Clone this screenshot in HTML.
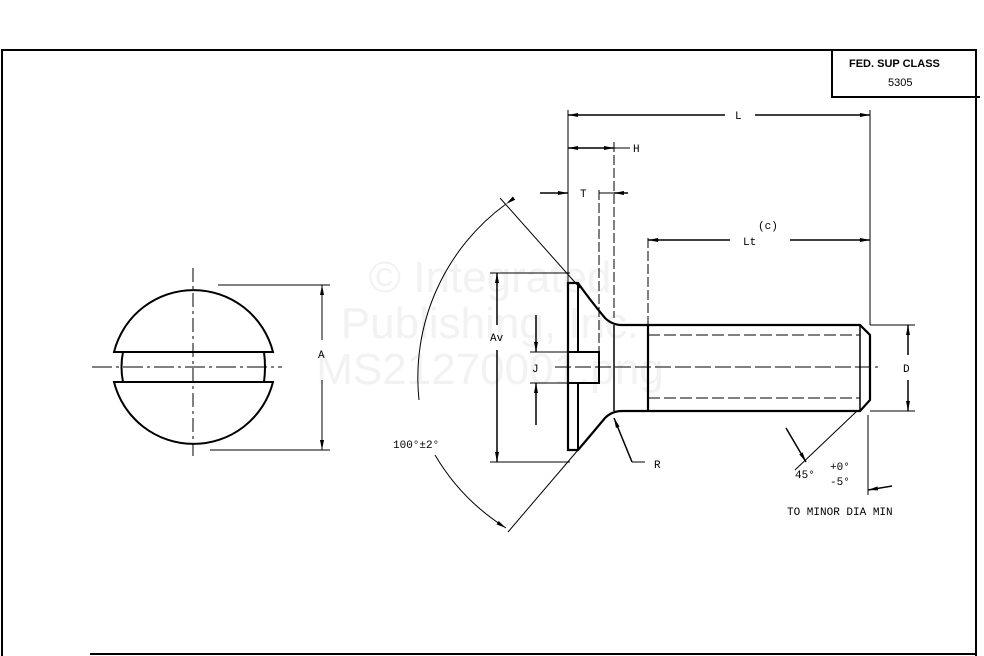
<!DOCTYPE html>
<html><head><style>
html,body{margin:0;padding:0;background:#fff;}
svg{display:block;}
text{font-family:"Liberation Mono",monospace;fill:#000;}
</style></head><body>
<svg width="984" height="656" viewBox="0 0 984 656" xmlns="http://www.w3.org/2000/svg">
<defs>
<marker id="a" markerWidth="10" markerHeight="6" refX="10" refY="3" orient="auto" markerUnits="userSpaceOnUse"><path d="M0,1 L10,3 L0,5 Z" fill="#000"/></marker>
</defs>
<g text-anchor="middle">
<text x="490" y="292" font-size="44" style="font-family:'Liberation Sans';fill:#f2f2f2">© Integrated</text>
<text x="490" y="338" font-size="44" style="font-family:'Liberation Sans';fill:#f2f2f2">Publishing, Inc.</text>
<text x="490" y="384" font-size="44" style="font-family:'Liberation Sans';fill:#f2f2f2">MS21270001.png</text>
</g>
<g stroke="#000" fill="none">
<path d="M2,656 V50 H976 V656" stroke-width="2"/>
<path d="M832,50 V97 H980" stroke-width="2"/>
<line x1="90" y1="654" x2="976" y2="654" stroke-width="2"/>
<path d="M114,352 A82,82 0 0 1 273,352 Z" stroke-width="2"/>
<path d="M114,382 A82,82 0 0 0 273,382 Z" stroke-width="2"/>
<path d="M123,352 Q120,367 123,382 M264,352 Q266,367 264,382" stroke-width="2"/>
<line x1="193" y1="268" x2="193" y2="456" stroke-width="1" stroke-dasharray="14,4,3,4"/>
<line x1="92" y1="367" x2="282" y2="367" stroke-width="1" stroke-dasharray="20,4,3,4"/>
<line x1="218" y1="285" x2="330" y2="285"/>
<line x1="210" y1="450" x2="330" y2="450"/>
<line x1="322" y1="340" x2="322" y2="285" marker-end="url(#a)"/>
<line x1="322" y1="380" x2="322" y2="450" marker-end="url(#a)"/>
<path d="M568,283 H578 Q590,300 605,318 Q612,325 622,325 H860 L870,335 V400 L860,411 H622 Q612,411 605,418 Q590,436 578,450 H568 Z" stroke-width="2.2"/>
<path d="M578,283 V352 H599 V383 H578 V450" stroke-width="2"/>
<line x1="568" y1="352" x2="578" y2="352" stroke-width="2"/>
<line x1="568" y1="383" x2="578" y2="383" stroke-width="2"/>
<line x1="614" y1="325" x2="614" y2="411" stroke-width="1.5"/>
<line x1="648" y1="325" x2="648" y2="411" stroke-width="2.2"/>
<line x1="648" y1="335" x2="860" y2="335" stroke-dasharray="12,4"/>
<line x1="648" y1="398" x2="860" y2="398" stroke-dasharray="12,4"/>
<line x1="860" y1="325" x2="860" y2="411" stroke-width="1.5"/>
<line x1="555" y1="367" x2="878" y2="367" stroke-dasharray="16,4"/>
<line x1="568" y1="110" x2="568" y2="283"/>
<line x1="614" y1="142" x2="614" y2="318" stroke-dasharray="10,3"/>
<line x1="599" y1="190" x2="599" y2="352" stroke-dasharray="10,3"/>
<line x1="648" y1="238" x2="648" y2="325" stroke-dasharray="10,3"/>
<line x1="870" y1="110" x2="870" y2="325"/>
<line x1="868" y1="415" x2="868" y2="495"/>
<line x1="725" y1="115" x2="568" y2="115" marker-end="url(#a)" stroke-width="1.5"/>
<line x1="755" y1="115" x2="870" y2="115" marker-end="url(#a)" stroke-width="1.5"/>
<line x1="590" y1="148" x2="568" y2="148" marker-end="url(#a)" stroke-width="1.5"/>
<line x1="590" y1="148" x2="614" y2="148" marker-end="url(#a)" stroke-width="1.5"/>
<line x1="614" y1="148" x2="630" y2="148"/>
<line x1="540" y1="193" x2="568" y2="193" marker-end="url(#a)" stroke-width="1.5"/>
<line x1="628" y1="193" x2="614" y2="193" marker-end="url(#a)" stroke-width="1.5"/>
<line x1="599" y1="193" x2="614" y2="193"/>
<line x1="730" y1="240" x2="648" y2="240" marker-end="url(#a)" stroke-width="1.5"/>
<line x1="790" y1="240" x2="870" y2="240" marker-end="url(#a)" stroke-width="1.5"/>
<line x1="490" y1="273" x2="570" y2="273"/>
<line x1="490" y1="462" x2="570" y2="462"/>
<line x1="497" y1="325" x2="497" y2="273" marker-end="url(#a)" stroke-width="1.5"/>
<line x1="497" y1="350" x2="497" y2="462" marker-end="url(#a)" stroke-width="1.5"/>
<line x1="536" y1="315" x2="536" y2="352" marker-end="url(#a)" stroke-width="1.5"/>
<line x1="536" y1="425" x2="536" y2="383" marker-end="url(#a)" stroke-width="1.5"/>
<line x1="530" y1="352" x2="568" y2="352"/>
<line x1="530" y1="383" x2="568" y2="383"/>
<line x1="870" y1="325" x2="915" y2="325"/>
<line x1="870" y1="411" x2="915" y2="411"/>
<line x1="908" y1="355" x2="908" y2="325" marker-end="url(#a)" stroke-width="1.5"/>
<line x1="908" y1="380" x2="908" y2="411" marker-end="url(#a)" stroke-width="1.5"/>
<line x1="500" y1="198" x2="580" y2="288"/>
<line x1="508" y1="532" x2="578" y2="450"/>
<path d="M506,204 A215,215 0 0 0 419,400" marker-start="url(#a)"/>
<path d="M435,455 A215,215 0 0 0 506,528" marker-end="url(#a)"/>
<line x1="645" y1="462" x2="632" y2="462"/>
<line x1="632" y1="462" x2="614" y2="418" marker-end="url(#a)" stroke-width="1.5"/>
<line x1="857" y1="411" x2="795" y2="470"/>
<line x1="786" y1="428" x2="806" y2="462" marker-end="url(#a)" stroke-width="1.5"/>
<line x1="892" y1="486" x2="868" y2="490" marker-end="url(#a)" stroke-width="1.5"/>
</g>
<g font-size="11">
<text x="849" y="67" font-weight="bold" style="font-family:'Liberation Sans'" font-size="11">FED. SUP CLASS</text>
<text x="888" y="86" style="font-family:'Liberation Sans'" font-size="11">5305</text>
<text x="735" y="119">L</text>
<text x="633" y="152">H</text>
<text x="580" y="197">T</text>
<text x="743" y="245">Lt</text>
<text x="758" y="229">(c)</text>
<text x="490" y="341">Av</text>
<text x="532" y="372">J</text>
<text x="318" y="358">A</text>
<text x="903" y="372">D</text>
<text x="654" y="468">R</text>
<text x="393" y="448">100°±2°</text>
<text x="795" y="478">45°</text>
<text x="830" y="470">+0°</text>
<text x="830" y="485">-5°</text>
<text x="787" y="515">TO MINOR DIA MIN</text>
</g>
</svg>
</body></html>
